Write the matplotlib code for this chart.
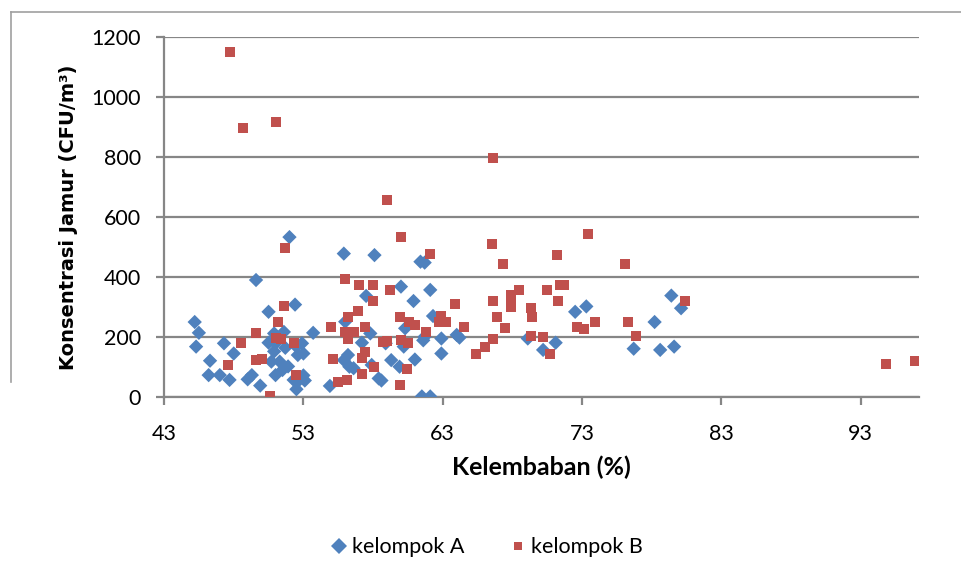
import numpy as np
import matplotlib.pyplot as plt
from matplotlib.lines import Line2D

# --- data ---
# kelompok A : (kelembaban %, konsentrasi jamur CFU/m3)
kelembaban_a = [45.2, 45.5, 45.3, 46.3, 46.2, 47.0, 47.3, 48.0, 47.7, 49.0,
                49.3, 49.6, 49.9, 50.5, 50.5, 50.7, 50.9, 50.9, 51.0, 51.0,
                51.3, 51.5, 51.6, 51.7, 51.9, 52.0, 52.3, 52.4, 52.5, 52.5,
                52.6, 52.6, 52.9, 53.0, 53.0, 53.1, 53.7, 54.9, 55.9, 56.0,
                55.9, 56.2, 56.3, 56.6, 57.2, 57.5, 57.8, 57.9, 58.1, 58.4,
                58.6, 58.9, 59.3, 59.9, 60.0, 60.3, 60.2, 60.9, 61.0, 61.4,
                61.7, 61.6, 61.7, 62.1, 62.3, 61.5, 62.1, 62.9, 62.9, 64.0,
                64.2, 69.1, 70.2, 71.1, 72.5, 73.3, 76.7, 78.2, 78.6, 79.4,
                79.6, 80.1]
jamur_a = [250, 214, 168, 121, 73, 73, 179, 145, 57, 59,
           73, 390, 38, 284, 181, 118, 152, 212, 179, 73,
           118, 90, 217, 164, 102, 533, 57, 308, 26, 168,
           140, 52, 179, 145, 72, 55, 214, 37, 478, 251,
           123, 140, 101, 96, 181, 337, 212, 107, 473, 62,
           55, 179, 123, 101, 368, 229, 168, 320, 125, 451,
           448, 189, 201, 357, 270, 2, 2, 195, 145, 207,
           198, 195, 157, 181, 284, 302, 161, 250, 157, 338,
           168, 296]

# kelompok B
kelembaban_b = [47.7, 48.7, 51.0, 51.7, 51.6, 51.2, 48.5, 47.6, 49.6, 49.6,
                50.0, 50.6, 51.0, 51.4, 52.3, 52.5, 55.0, 55.1, 55.5, 56.1,
                56.0, 56.2, 56.9, 56.0, 56.6, 56.2, 57.0, 57.4, 57.4, 57.2,
                58.1, 57.2, 58.0, 58.0, 59.0, 59.2, 58.7, 59.0, 60.0, 59.9,
                60.0, 60.5, 60.4, 59.9, 60.6, 61.0, 61.8, 62.1, 62.7, 62.9,
                63.2, 63.9, 64.5, 65.4, 66.0, 66.5, 66.6, 66.6, 66.6, 66.9,
                67.3, 67.5, 67.9, 67.9, 67.9, 68.5, 69.3, 69.4, 69.3, 70.2,
                70.5, 70.7, 71.2, 71.3, 71.4, 71.7, 72.6, 73.1, 73.4, 73.9,
                76.1, 76.3, 76.9, 80.4, 94.8, 96.9]
jamur_b = [1149, 896, 918, 496, 303, 250, 180, 108, 215, 123,
           127, 2, 198, 192, 181, 75, 233, 128, 50, 57,
           392, 268, 287, 218, 218, 195, 374, 234, 150, 129,
           101, 78, 374, 320, 656, 357, 184, 188, 532, 268,
           190, 179, 95, 40, 251, 240, 218, 478, 251, 270,
           251, 310, 234, 145, 168, 509, 798, 321, 192, 268,
           443, 229, 340, 318, 301, 357, 296, 268, 203, 199,
           357, 145, 473, 321, 375, 375, 232, 227, 545, 251,
           443, 251, 203, 321, 109, 121]

x_ticks = [43, 53, 63, 73, 83, 93]
y_ticks = [0, 200, 400, 600, 800, 1000, 1200]

blue = '#4F81BD'
red = '#C0504D'
grey = '#868686'

fig = plt.figure(figsize=(9.61, 5.79), dpi=100)
ax = fig.add_axes([0.1707, 0.3143, 0.786, 0.6218])

ax.scatter(kelembaban_a, jamur_a, marker='D', s=7.3**2, color=blue,
           edgecolors='none', zorder=3, label='kelompok A')
ax.scatter(kelembaban_b, jamur_b, marker='s', s=7.2**2, color=red,
           edgecolors='none', zorder=4, label='kelompok B')

ax.set_xlim(43, 97.2)
ax.set_ylim(0, 1200)
ax.set_xticks(x_ticks)
ax.set_yticks(y_ticks)

ax.grid(axis='y', color=grey, linewidth=1.6, zorder=0)
ax.set_axisbelow(True)
for s in ['top', 'right']:
    ax.spines[s].set_visible(False)
for s in ['left', 'bottom']:
    ax.spines[s].set_color(grey)
    ax.spines[s].set_linewidth(1.6)

ax.tick_params(axis='both', direction='out', length=5.5, width=1.6, color=grey,
               labelsize=15.5, labelcolor='black')
ax.tick_params(axis='y', pad=11)
ax.tick_params(axis='x', pad=14)
for lab in ax.get_xticklabels() + ax.get_yticklabels():
    lab.set_family('Lato')

ax.set_xlabel('Kelembaban (%)', family='Lato', fontweight='bold', fontsize=18,
              labelpad=8)
ax.set_ylabel('Konsentrasi Jamur (CFU/m³)', family='DejaVu Sans',
              fontweight='bold', fontsize=14, labelpad=10)

handles = [Line2D([], [], marker='D', color=blue, linestyle='none', markersize=8,
                  markeredgewidth=0),
           Line2D([], [], marker='s', color=red, linestyle='none', markersize=6,
                  markeredgewidth=0)]
fig.legend(handles, ['kelompok A', 'kelompok B'], loc='center',
           bbox_to_anchor=(0.505, 0.055), ncol=2, frameon=False,
           prop={'family': 'Lato', 'size': 15.5}, handletextpad=0.1,
           columnspacing=2.0, handlelength=1.0)

# chart border (top and left edges visible in the original)
fig.add_artist(Line2D([0.011, 1.0], [0.979, 0.979], color='#A0A0A0', lw=1.2))
fig.add_artist(Line2D([0.011, 0.011], [0.979, 0.34], color='#A0A0A0', lw=1.2))

fig.savefig('out.png', dpi=100)
